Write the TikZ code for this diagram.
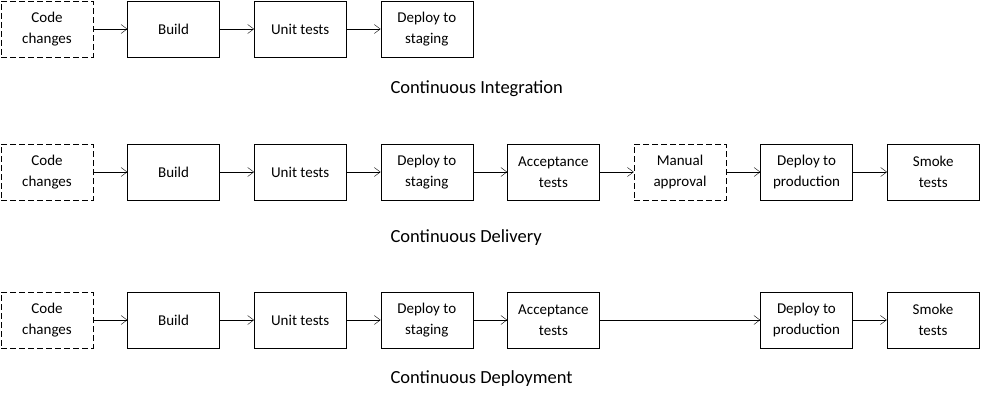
\documentclass[tikz,border=0pt]{standalone}
\usepackage{fontspec}
\setmainfont{Carlito}
\usetikzlibrary{positioning,arrows.meta}
\tikzset{
  stage/.style={draw, thin, minimum width=92pt, minimum height=56pt, align=center, font=\fontsize{15pt}{21pt}\selectfont, inner sep=2pt},
  manual/.style={stage, dash pattern=on 6pt off 3pt},
  flow/.style={thin, -{Straight Barb[length=6pt,width=9pt]}},
  caption/.style={anchor=west, font=\fontsize{18.5pt}{21pt}\selectfont}
}
\begin{document}
\begin{tikzpicture}[x=1pt,y=-1pt]
\useasboundingbox (0,0) rectangle (981,401);

% Continuous Integration
\node[manual] (ci1) at (47,29) {Code\\changes};
\node[stage, right=34.2pt of ci1] (ci2) {Build};
\node[stage, right=34.2pt of ci2] (ci3) {Unit tests};
\node[stage, right=34.2pt of ci3] (ci4) {Deploy to\\staging};
\draw[flow] (ci1) -- (ci2);
\draw[flow] (ci2) -- (ci3);
\draw[flow] (ci3) -- (ci4);
\node[caption] (cit) at (387,89) {Continuous Integration};

% Continuous Delivery
\node[manual] (cd1) at (47,172) {Code\\changes};
\node[stage, right=34.2pt of cd1] (cd2) {Build};
\node[stage, right=34.2pt of cd2] (cd3) {Unit tests};
\node[stage, right=34.2pt of cd3] (cd4) {Deploy to\\staging};
\node[stage, right=34.2pt of cd4] (cd5) {Acceptance\\tests};
\node[manual, right=34.2pt of cd5] (cd6) {Manual\\approval};
\node[stage, right=34.2pt of cd6] (cd7) {Deploy to\\production};
\node[stage, right=34.2pt of cd7] (cd8) {Smoke\\tests};
\foreach \a/\b in {1/2,2/3,3/4,4/5,5/6,6/7,7/8}
  \draw[flow] (cd\a) -- (cd\b);
\node[caption] (cdt) at (387,238) {Continuous Delivery};

% Continuous Deployment
\node[manual] (cp1) at (47,320) {Code\\changes};
\node[stage, right=34.2pt of cp1] (cp2) {Build};
\node[stage, right=34.2pt of cp2] (cp3) {Unit tests};
\node[stage, right=34.2pt of cp3] (cp4) {Deploy to\\staging};
\node[stage, right=34.2pt of cp4] (cp5) {Acceptance\\tests};
\node[stage, right=160.6pt of cp5] (cp7) {Deploy to\\production};
\node[stage, right=34.2pt of cp7] (cp8) {Smoke\\tests};
\foreach \a/\b in {1/2,2/3,3/4,4/5,5/7,7/8}
  \draw[flow] (cp\a) -- (cp\b);
\node[caption] (cpt) at (387,379) {Continuous Deployment};
\end{tikzpicture}
\end{document}
